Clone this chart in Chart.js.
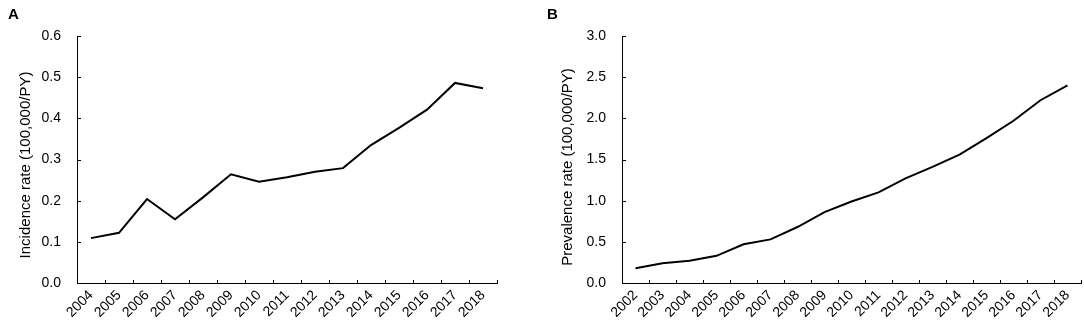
<!DOCTYPE html>
<html>
<head>
<meta charset="utf-8">
<script src="https://cdn.jsdelivr.net/npm/chart.js@4.4.1/dist/chart.umd.min.js"></script>
<style>
  body { margin: 0; background: #fff; width: 1084px; height: 326px; position: relative; overflow: hidden; font-family: "Liberation Sans", Arial, sans-serif; }
  .panel { position: absolute; top: 0; }
  .panel canvas { display: block; }
  .tag { position: absolute; top: 6px; font-weight: bold; font-size: 15px; line-height: 15px; color: #000; }
</style>
</head>
<body>
<div class="panel" style="left:0"><canvas id="incidenceChart" width="540" height="326"></canvas></div>
<div class="panel" style="left:540px"><canvas id="prevalenceChart" width="544" height="326"></canvas></div>
<div class="tag" style="left:8px">A</div>
<div class="tag" style="left:547px">B</div>
<script>
// Panel A - incidence per 100,000 PY
const incidenceYears = ['2004', '2005', '2006', '2007', '2008', '2009', '2010', '2011',
  '2012', '2013', '2014', '2015', '2016', '2017', '2018'];
const incidenceRates = [0.109, 0.122, 0.204, 0.155, 0.208, 0.264, 0.246, 0.257,
  0.270, 0.279, 0.335, 0.377, 0.421, 0.486, 0.473];

// Panel B - prevalence per 100,000 PY
const prevalenceYears = ['2002', '2003', '2004', '2005', '2006', '2007', '2008', '2009',
  '2010', '2011', '2012', '2013', '2014', '2015', '2016', '2017', '2018'];
const prevalenceRates = [0.18, 0.24, 0.27, 0.33, 0.47, 0.53, 0.68, 0.86,
  0.99, 1.10, 1.27, 1.41, 1.56, 1.76, 1.97, 2.22, 2.40];

Chart.defaults.font.family = '"Liberation Sans", Arial, sans-serif';
Chart.defaults.color = '#000';

// inward tick marks + rotated y title (drawn where the original puts it)
const axisDecor = {
  id: 'axisDecor',
  afterDraw(chart, args, opts) {
    const { ctx, chartArea } = chart;
    const xs = chart.scales.x;
    const ys = chart.scales.y;
    ctx.save();
    ctx.strokeStyle = '#000';
    ctx.lineWidth = 1;
    ctx.beginPath();
    const n = xs.getLabels().length;
    for (let i = 0; i <= n; i++) {
      const px = Math.round(xs.getPixelForValue(i - 0.5)) + 0.5;
      ctx.moveTo(px, chartArea.bottom);
      ctx.lineTo(px, chartArea.bottom - 3);
    }
    ys.ticks.forEach(t => {
      const py = Math.round(ys.getPixelForValue(t.value)) + 0.5;
      ctx.moveTo(chartArea.left, py);
      ctx.lineTo(chartArea.left + 4, py);
    });
    ctx.stroke();

    ctx.fillStyle = '#000';
    ctx.font = '15px "Liberation Sans", Arial, sans-serif';
    ctx.translate(opts.titleX, opts.titleY);
    ctx.rotate(-Math.PI / 2);
    ctx.textAlign = 'center';
    ctx.textBaseline = 'middle';
    ctx.fillText(opts.title, 0, 0);
    ctx.restore();
  }
};

function renderRateChart(canvasId, labels, values, cfg) {
  const ctx = document.getElementById(canvasId).getContext('2d');
  return new Chart(ctx, {
    type: 'line',
    data: {
      labels: labels,
      datasets: [{
        data: values,
        borderColor: '#000',
        borderWidth: 2,
        pointRadius: 0,
        fill: false,
        tension: 0
      }]
    },
    options: {
      responsive: false,
      animation: false,
      layout: { padding: { top: 36, right: cfg.padRight, bottom: 0, left: 0 } },
      plugins: {
        legend: { display: false },
        tooltip: { enabled: false },
        axisDecor: { title: cfg.title, titleX: cfg.titleX, titleY: cfg.titleY }
      },
      scales: {
        x: {
          type: 'category',
          offset: true,
          grid: { display: false, offset: true, drawTicks: false },
          border: { display: true, color: '#000', width: 1 },
          ticks: {
            autoSkip: false,
            minRotation: 45,
            maxRotation: 45,
            padding: 4,
            font: { size: 14 }
          },
          afterFit(scale) { scale.height = 43; }
        },
        y: {
          min: 0,
          max: cfg.max,
          grid: { display: false, drawTicks: false },
          border: { display: true, color: '#000', width: 1 },
          ticks: {
            stepSize: cfg.step,
            padding: 16,
            font: { size: 14 },
            callback: v => v.toFixed(1)
          },
          afterFit(scale) { scale.width = cfg.axisWidth; }
        }
      }
    },
    plugins: [axisDecor]
  });
}

renderRateChart('incidenceChart', incidenceYears, incidenceRates, {
  max: 0.6, step: 0.1, axisWidth: 77, padRight: 43,
  title: 'Incidence rate (100,000/PY)', titleX: 25.5, titleY: 165
});

renderRateChart('prevalenceChart', prevalenceYears, prevalenceRates, {
  max: 3.0, step: 0.5, axisWidth: 82, padRight: 3,
  title: 'Prevalence rate (100,000/PY)', titleX: 27.5, titleY: 167
});
</script>
</body>
</html>
